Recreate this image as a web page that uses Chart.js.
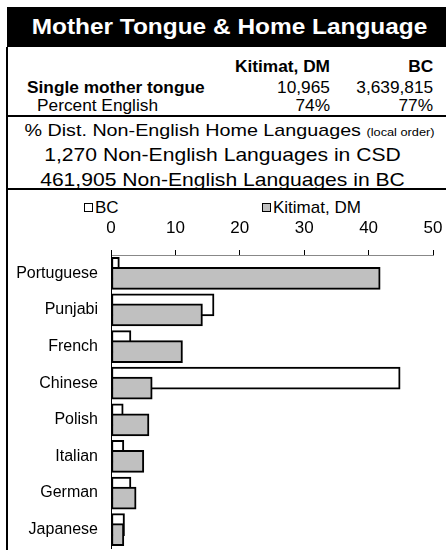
<!DOCTYPE html>
<html>
<head>
<meta charset="UTF-8">
<title>Mother Tongue &amp; Home Language</title>
<script src="https://cdn.jsdelivr.net/npm/chart.js"></script>
<style>
  body { margin: 0; background: #fff; font-family: "Liberation Sans", Arial, sans-serif; }
  #page { position: relative; width: 446px; height: 550px; overflow: hidden; }
  .t { position: absolute; white-space: nowrap; color: #000; }
  .r { transform: scaleX(1.08); transform-origin: right center; }
  .l { transform: scaleX(1.08); transform-origin: left center; }
  .c { transform: scaleX(1.11); transform-origin: center center; text-align: center; }
  #head { position: absolute; left: 7px; top: 7px; width: 439px; height: 40px; background: #000; }
  #headText { color: #fff; font-weight: bold; font-size: 22px; line-height: 40px; left: 10px; width: 439px; top: 7px; }
  #leftLine { position: absolute; left: 6px; top: 47px; width: 2px; height: 503px; background: #000; }
  .rule { position: absolute; left: 7px; width: 439px; height: 2px; background: #000; }
  #legend span.box { display: inline-block; width: 7px; height: 7px; border: 1px solid #000; vertical-align: 1px; margin-right: 2px; }
  #chartBox { position: absolute; left: 8px; top: 190px; width: 438px; height: 360px; }
</style>
</head>
<body>
<div id="page">
  <div id="head"></div>
  <div class="t c" id="headText">Mother Tongue &amp; Home Language</div>
  <div id="leftLine"></div>
  <div class="rule" style="top:115px"></div>
  <div class="rule" style="top:188px"></div>

  <div class="t r" style="right:116px; top:58px; font-size:16px; font-weight:bold; line-height:18px">Kitimat, DM</div>
  <div class="t r" style="right:13px; top:58px; font-size:16px; font-weight:bold; line-height:18px">BC</div>
  <div class="t l" style="left:27px; top:79px; font-size:16px; font-weight:bold; line-height:18px">Single mother tongue</div>
  <div class="t r" style="right:116px; top:79px; font-size:16px; line-height:18px" id="kitTotal"></div>
  <div class="t r" style="right:13px; top:79px; font-size:16px; line-height:18px" id="bcTotal"></div>
  <div class="t l" style="left:37px; top:97px; font-size:16px; line-height:18px">Percent English</div>
  <div class="t r" style="right:116px; top:97px; font-size:16px; line-height:18px" id="kitEng"></div>
  <div class="t r" style="right:13px; top:97px; font-size:16px; line-height:18px" id="bcEng"></div>

  <div class="t c" style="left:10px; width:439px; top:121px; font-size:17px; line-height:20px; transform:scaleX(1.16)">% Dist. Non-English Home Languages <span style="font-size:11px">(local order)</span></div>
  <div class="t c" style="left:3px; width:439px; top:144px; font-size:19px; line-height:22px" id="csdLine"></div>
  <div class="t c" style="left:3px; width:439px; top:169px; font-size:19px; line-height:22px" id="bcLine"></div>

  <div class="t" id="legend" style="left:0; top:199px; font-size:17px; line-height:18px; width:446px"></div>

  <div id="chartBox"><canvas id="langChart"></canvas></div>
</div>

<script>
  const languages = ['Portuguese', 'Punjabi', 'French', 'Chinese', 'Polish', 'Italian', 'German', 'Japanese'];
  const bcShare = [1.3, 16.0, 3.1, 44.9, 1.9, 2.0, 3.1, 2.1];
  const kitimatShare = [41.8, 14.2, 11.1, 6.4, 5.9, 5.1, 3.9, 2.0];
  const seriesNames = ['BC', 'Kitimat, DM'];
  const seriesFill = ['#ffffff', '#c0c0c0'];
  const xTicks = [0, 10, 20, 30, 40, 50];

  const motherTongue = ['10,965', '3,639,815'];
  const percentEnglish = ['74%', '77%'];
  const nonEnglish = ['1,270', '461,905'];

  document.getElementById('kitTotal').textContent = motherTongue[0];
  document.getElementById('bcTotal').textContent = motherTongue[1];
  document.getElementById('kitEng').textContent = percentEnglish[0];
  document.getElementById('bcEng').textContent = percentEnglish[1];
  document.getElementById('csdLine').textContent = nonEnglish[0] + ' Non-English Languages in CSD';
  document.getElementById('bcLine').textContent = nonEnglish[1] + ' Non-English Languages in BC';

  // legend spread out like the excel one
  const legendPos = [84, 262];
  document.getElementById('legend').innerHTML = seriesNames.map((n, i) =>
    '<span style="position:absolute; left:' + legendPos[i] + 'px"><span class="box" style="background:' + seriesFill[i] + '"></span>' + n + '</span>'
  ).join('');

  // excel overlap: shift each series a bit up / down inside the category
  const overlap = {
    id: 'overlap',
    beforeDatasetDraw(chart, args) {
      chart.ctx.save();
      chart.ctx.translate(0, args.index === 0 ? -5 : 5);
    },
    afterDatasetDraw(chart) {
      chart.ctx.restore();
    }
  };

  // labels must not push the plot area in
  function noPad(s) {
    s.paddingLeft = s.paddingRight = s.paddingTop = s.paddingBottom = 0;
  }

  new Chart(document.getElementById('langChart'), {
    type: 'bar',
    data: {
      labels: languages,
      datasets: [
        { label: seriesNames[0], data: bcShare, backgroundColor: seriesFill[0], borderColor: '#000',
          borderWidth: 2, borderSkipped: false, barThickness: 22, grouped: false, order: 1 },
        { label: seriesNames[1], data: kitimatShare, backgroundColor: seriesFill[1], borderColor: '#000',
          borderWidth: 2, borderSkipped: false, barThickness: 22, grouped: false, order: 0 }
      ]
    },
    options: {
      indexAxis: 'y',
      responsive: true,
      maintainAspectRatio: false,
      animation: false,
      layout: { padding: { top: 0, right: 13, bottom: 2, left: 0 } },
      plugins: { legend: { display: false }, tooltip: { enabled: false } },
      scales: {
        x: {
          position: 'top',
          min: xTicks[0],
          max: xTicks[xTicks.length - 1],
          afterBuildTicks: s => { s.ticks = xTicks.map(v => ({ value: v })); },
          afterFit: s => { s.height = 65; noPad(s); },
          ticks: { color: '#000', font: { family: 'Liberation Sans', size: 17 }, padding: 11, maxRotation: 0 },
          grid: { drawOnChartArea: false, drawTicks: true, tickLength: 5, color: '#000' },
          border: { color: '#888', width: 1 }
        },
        y: {
          afterFit: s => { s.width = 103; noPad(s); },
          ticks: { color: '#000', font: { family: 'Liberation Sans', size: 16 }, padding: 13 },
          grid: { display: false, drawTicks: false },
          border: { display: true, color: '#000', width: 1 }
        }
      }
    },
    plugins: [overlap]
  });
</script>
</body>
</html>
